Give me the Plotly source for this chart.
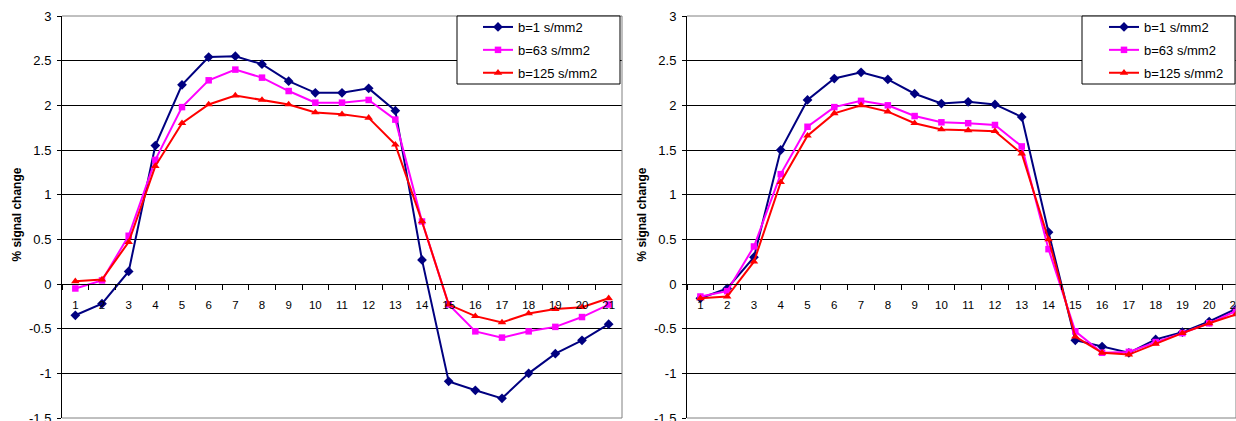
import plotly.graph_objects as go

# ---------------- data ----------------
categories = [str(i) for i in range(1, 22)]
series_names = ["b=1 s/mm2", "b=63 s/mm2", "b=125 s/mm2"]

left_b1 = [-0.35, -0.22, 0.14, 1.55, 2.23, 2.54, 2.55, 2.46, 2.27, 2.14, 2.14,
           2.19, 1.94, 0.27, -1.09, -1.19, -1.28, -1.00, -0.78, -0.63, -0.45]
left_b63 = [-0.05, 0.04, 0.54, 1.39, 1.98, 2.28, 2.40, 2.31, 2.16, 2.03, 2.03,
            2.06, 1.84, 0.70, -0.23, -0.53, -0.60, -0.53, -0.48, -0.37, -0.23]
left_b125 = [0.03, 0.05, 0.47, 1.32, 1.80, 2.01, 2.11, 2.06, 2.01, 1.92, 1.90,
             1.86, 1.56, 0.70, -0.23, -0.36, -0.43, -0.33, -0.28, -0.26, -0.16]

right_b1 = [-0.16, -0.05, 0.30, 1.50, 2.06, 2.30, 2.37, 2.29, 2.13, 2.02, 2.04,
            2.01, 1.87, 0.58, -0.63, -0.70, -0.77, -0.62, -0.54, -0.42, -0.28]
right_b63 = [-0.14, -0.08, 0.42, 1.23, 1.76, 1.98, 2.05, 2.00, 1.88, 1.81, 1.80,
             1.78, 1.54, 0.39, -0.53, -0.77, -0.76, -0.65, -0.55, -0.44, -0.30]
right_b125 = [-0.16, -0.14, 0.25, 1.14, 1.66, 1.91, 2.00, 1.93, 1.80, 1.73, 1.72,
              1.71, 1.46, 0.50, -0.59, -0.77, -0.79, -0.67, -0.55, -0.44, -0.34]

y_tickvals = [-1.5, -1, -0.5, 0, 0.5, 1, 1.5, 2, 2.5, 3]
y_ticktext = ["-1.5", "-1", "-0.5", "0", "0.5", "1", "1.5", "2", "2.5", "3"]
y_title = "% signal change"

# ---------------- style ----------------
W, H = 1236, 421
ML, MR, MT, MB = 0, 0, 16, 3
PH = H - MT - MB
FONT = "Liberation Sans, Arial, sans-serif"
colors = ["#000080", "#FF00FF", "#FF0000"]
symbols = ["diamond", "square", "triangle-up"]
msizes = [7.5, 6.5, 7.5]


def px(x):
    return x / W


def py(y):
    return (H - MB - y) / PH


fig = go.Figure()

panels = [
    ([left_b1, left_b63, left_b125], "x", "y", "legend"),
    ([right_b1, right_b63, right_b125], "x2", "y2", "legend2"),
]
for vals_list, xa, ya, leg in panels:
    for i, (name, vals) in enumerate(zip(series_names, vals_list)):
        fig.add_trace(go.Scatter(
            x=categories, y=vals, name=name, mode="lines+markers",
            xaxis=xa, yaxis=ya, legend=leg, legendgroup=leg + str(i),
            line=dict(color=colors[i], width=2),
            marker=dict(symbol=symbols[i], size=msizes[i], color=colors[i]),
        ))

common_x = dict(
    type="category", tickson="boundaries", ticks="outside", ticklen=5,
    tickcolor="black", tickwidth=1, showline=True, linecolor="black", linewidth=1,
    showgrid=False, zeroline=False, anchor="free", position=1.5 / 4.5,
    tickfont=dict(family=FONT, size=11.5, color="black"), ticklabelstandoff=10,
    ticklabeloverflow="allow", automargin=False,
)
common_y = dict(
    range=[-1.5, 3], tickvals=y_tickvals, ticktext=y_ticktext,
    showgrid=True, gridcolor="black", gridwidth=1, zeroline=False,
    showline=True, linecolor="black", linewidth=1, ticks="outside", ticklen=4,
    tickcolor="black", tickfont=dict(family=FONT, size=13, color="black"),
    domain=[0, 1], ticklabeloverflow="allow", ticklabelstandoff=3, automargin=False,
)

fig.update_layout(
    template="none",
    width=W, height=H, margin=dict(l=ML, r=MR, t=MT, b=MB),
    paper_bgcolor="white", plot_bgcolor="white",
    font=dict(family=FONT, color="black"),
    xaxis=dict(domain=[px(62), px(622)], range=[-0.5, 20.5], **common_x),
    xaxis2=dict(domain=[px(687), 1.0], range=[-0.5, 20.001], **common_x),
    yaxis=dict(anchor="x", **common_y),
    yaxis2=dict(anchor="x2", **common_y),
    legend=dict(x=px(478), y=py(12), xanchor="left", yanchor="top",
                bgcolor="rgba(0,0,0,0)", borderwidth=0, tracegroupgap=3,
                font=dict(family=FONT, size=13, color="black")),
    legend2=dict(x=px(1104), y=py(12), xanchor="left", yanchor="top",
                 bgcolor="rgba(0,0,0,0)", borderwidth=0, tracegroupgap=3,
                 font=dict(family=FONT, size=13, color="black")),
    showlegend=True,
)

shapes = []
# gray plot-area frame (top, bottom, right)
for xr, yr in [("x domain", "y domain"), ("x2 domain", "y2 domain")]:
    for x0, y0, x1, y1 in [(0, 1, 1, 1), (0, 0, 1, 0), (1, 0, 1, 1)]:
        shapes.append(dict(type="line", xref=xr, yref=yr, x0=x0, y0=y0, x1=x1, y1=y1,
                           line=dict(color="#808080", width=1), layer="above"))
# legend boxes
for x0, x1 in [(457, 620), (1082, 1235)]:
    shapes.append(dict(type="rect", xref="paper", yref="paper",
                       x0=px(x0), x1=px(x1), y0=py(84), y1=py(16),
                       line=dict(color="black", width=1), fillcolor="white", layer="above"))
fig.update_layout(shapes=shapes)

for xpos in [17, 642]:
    fig.add_annotation(text=y_title, xref="paper", yref="paper", x=px(xpos), y=0.506,
                       textangle=-90, showarrow=False, xanchor="center", yanchor="middle",
                       font=dict(family=FONT, size=12, color="black", weight="bold"))

fig.write_html("out.html", config={"displayModeBar": False},
               post_script="document.body.style.margin='0';document.body.style.overflow='hidden';")
